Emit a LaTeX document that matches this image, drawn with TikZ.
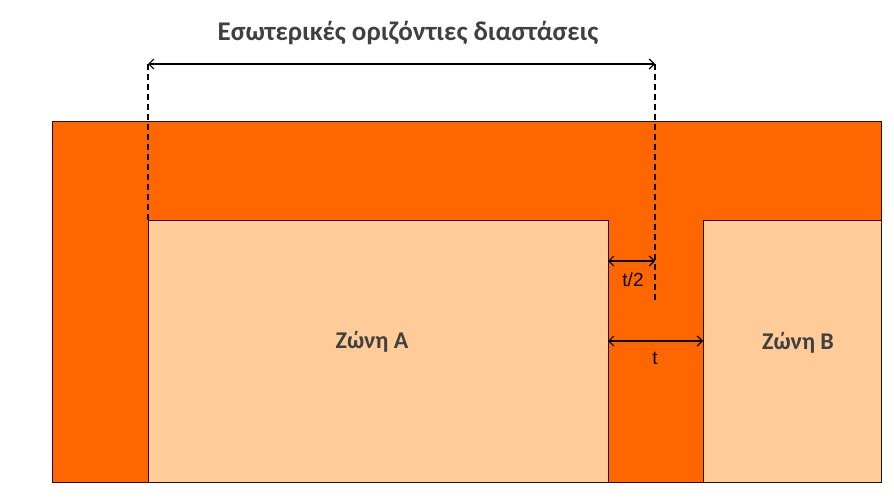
\documentclass[tikz,border=0pt]{standalone}
\usepackage{fontspec}
\setmainfont{Carlito}
\newfontfamily\arialfont{Liberation Sans}
\usetikzlibrary{arrows.meta}
\definecolor{wallorange}{HTML}{FF6600}
\definecolor{zonepeach}{HTML}{FFCC99}
\definecolor{textgray}{HTML}{404040}
\definecolor{edgebrown}{HTML}{2A0E00}

\begin{document}
\begin{tikzpicture}[x=1pt,y=-1pt]
\tikzstyle{block}=[draw=edgebrown, line width=1.2pt, inner sep=0pt, anchor=north west]
\tikzstyle{dim}=[line width=1.2pt, {Straight Barb[length=5pt,width=10pt]}-{Straight Barb[length=5pt,width=10pt]}]
\tikzstyle{guide}=[line width=1.3pt, dash pattern=on 6pt off 4pt]
\tikzstyle{zonetext}=[font=\fontsize{24}{28}\selectfont\bfseries, text=textgray]
\tikzstyle{dimtext}=[font=\arialfont\fontsize{19}{22}\selectfont, text=black]

\useasboundingbox (0,0) rectangle (894,503);

% walls and zones
\node[block, fill=wallorange, minimum width=829pt, minimum height=361pt] (wall) at (52,121) {};
\node[block, fill=zonepeach, minimum width=460pt, minimum height=262pt] (zoneA) at (148,220) {};
\node[block, fill=zonepeach, minimum width=178pt, minimum height=262pt] (zoneB) at (703,220) {};

\node[zonetext] (nameA) at (372,342) {Ζώνη A};
\node[zonetext] (nameB) at (798,343) {Ζώνη B};

% dimension lines
\coordinate (dimL) at (148,64);
\coordinate (dimR) at (655,64);
\coordinate (axisEnd) at (655,303);
\coordinate (halfL) at (608,261);
\coordinate (halfR) at (655,261);
\coordinate (fullL) at (608,341);
\coordinate (fullR) at (703,341);

\draw[guide] (dimL) -- (zoneA.north west);
\draw[guide] (dimR) -- (axisEnd);
\draw[dim] (dimL) -- (dimR);
\draw[dim] (halfL) -- (halfR);
\draw[dim] (fullL) -- (fullR);

\node[font=\fontsize{27}{32}\selectfont\bfseries, text=textgray] (title) at (408,33) {Εσωτερικές οριζόντιες διαστάσεις};
\node[dimtext] (half) at (633,280) {t/2};
\node[dimtext] (full) at (655,358) {t};

\end{tikzpicture}
\end{document}
